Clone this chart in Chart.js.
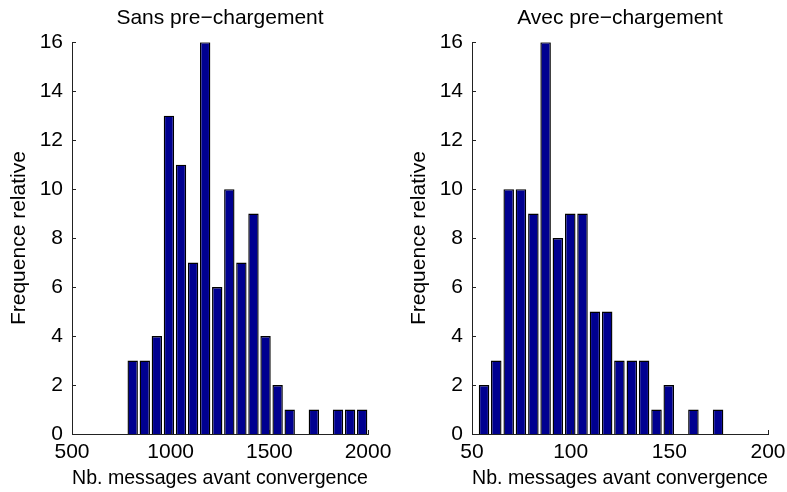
<!DOCTYPE html>
<html>
<head>
<meta charset="utf-8">
<script src="https://cdn.jsdelivr.net/npm/chart.js@4/dist/chart.umd.min.js"></script>
<style>
  html, body { margin: 0; padding: 0; background: #fff; overflow: hidden; }
  body { width: 787px; height: 492px; position: relative; }
  .panel { position: absolute; top: 0; width: 400px; height: 492px; }
  #left { left: 0; }
  #right { left: 400px; }
</style>
</head>
<body>
<div class="panel" id="left"><canvas id="histSans"></canvas></div>
<div class="panel" id="right"><canvas id="histAvec"></canvas></div>
<script>
// -------------------------
// DATA
// -------------------------
const sansCenters = [807.6, 868.8, 930.0, 991.2, 1052.4, 1113.6, 1174.8, 1236.0, 1297.2, 1358.4,
                     1419.6, 1480.8, 1542.0, 1603.2, 1664.4, 1725.6, 1786.8, 1848.0, 1909.2, 1970.4];
const sansFreq = [3, 3, 4, 13, 11, 7, 16, 6, 10, 7, 9, 4, 2, 1, 0, 1, 0, 1, 1, 1];

const avecCenters = [56.1, 62.3, 68.6, 74.8, 81.1, 87.3, 93.5, 99.8, 106.0, 112.3,
                     118.5, 124.7, 131.0, 137.2, 143.5, 149.7, 155.9, 162.2, 168.4, 174.7];
const avecFreq = [2, 3, 10, 10, 9, 16, 8, 9, 9, 5, 5, 3, 3, 3, 1, 2, 0, 1, 0, 1];

const sansXTicks = [500, 1000, 1500, 2000];
const avecXTicks = [50, 100, 150, 200];
const yTicks = [0, 2, 4, 6, 8, 10, 12, 14, 16];

const titles = ["Sans pre\u2212chargement", "Avec pre\u2212chargement"];
const xLabel = "Nb. messages avant convergence";
const yLabel = "Frequence relative";

// -------------------------
// STYLE
// -------------------------
const FONT = "'Liberation Sans', Arial, Helvetica, sans-serif";
const FONT_SIZE = 21;
const BAR_COLOR = "#000090";
const AXIS_COLOR = "#222222";
const TICK_LEN = 4;

// small inward tick marks, matlab style
const inwardTicks = {
  id: "inwardTicks",
  afterDraw(chart) {
    const ctx = chart.ctx;
    const xs = chart.scales.x;
    const ys = chart.scales.y;
    const area = chart.chartArea;
    ctx.save();
    ctx.strokeStyle = AXIS_COLOR;
    ctx.lineWidth = 1;
    ctx.beginPath();
    xs.ticks.forEach(t => {
      const px = Math.round(xs.getPixelForValue(t.value)) + 0.5;
      ctx.moveTo(px, area.bottom);
      ctx.lineTo(px, area.bottom - TICK_LEN);
    });
    ys.ticks.forEach(t => {
      const py = Math.round(ys.getPixelForValue(t.value)) + 0.5;
      ctx.moveTo(area.left, py);
      ctx.lineTo(area.left + TICK_LEN, py);
    });
    ctx.stroke();
    ctx.restore();
  }
};

// -------------------------
// BUILD ONE HISTOGRAM
// -------------------------
function makeHist(canvasId, title, centers, freq, xTicks) {
  const points = centers.map((c, i) => ({ x: c, y: freq[i] }));
  const ctx = document.getElementById(canvasId).getContext("2d");

  return new Chart(ctx, {
    type: "bar",
    data: {
      datasets: [{
        data: points,
        backgroundColor: BAR_COLOR,
        borderColor: "#000000",
        borderWidth: 1.4,
        barPercentage: 0.86,
        categoryPercentage: 1.0
      }]
    },
    options: {
      responsive: true,
      maintainAspectRatio: false,
      animation: false,
      layout: { padding: { left: 0, right: 32, top: 0, bottom: 0 } },
      plugins: {
        legend: { display: false },
        tooltip: { enabled: false },
        title: {
          display: true,
          text: title,
          fullSize: false,
          color: "#000",
          font: { family: FONT, size: FONT_SIZE, weight: "normal" },
          padding: { top: 6, bottom: 11 }
        }
      },
      scales: {
        x: {
          type: "linear",
          offset: false,
          min: xTicks[0],
          max: xTicks[xTicks.length - 1],
          afterBuildTicks: s => { s.ticks = xTicks.map(v => ({ value: v })); },
          afterFit: s => { s.height = 58; },
          grid: { display: false, drawTicks: false },
          border: { display: true, color: AXIS_COLOR, width: 1 },
          ticks: {
            color: "#000",
            padding: 6,
            maxRotation: 0,
            callback: v => String(v),
            font: { family: FONT, size: FONT_SIZE }
          },
          title: {
            display: true,
            text: xLabel,
            color: "#000",
            font: { family: FONT, size: FONT_SIZE },
            padding: { top: 0, bottom: 1 }
          }
        },
        y: {
          min: 0,
          max: 16,
          afterBuildTicks: s => { s.ticks = yTicks.map(v => ({ value: v })); },
          afterFit: s => { s.width = 72; },
          grid: { display: false, drawTicks: false },
          border: { display: true, color: AXIS_COLOR, width: 1 },
          ticks: {
            color: "#000",
            padding: 9,
            callback: v => String(v),
            font: { family: FONT, size: FONT_SIZE }
          },
          title: {
            display: true,
            text: yLabel,
            color: "#000",
            font: { family: FONT, size: FONT_SIZE },
            padding: { top: 7, bottom: 0 }
          }
        }
      }
    },
    plugins: [inwardTicks]
  });
}

// -------------------------
// START
// -------------------------
makeHist("histSans", titles[0], sansCenters, sansFreq, sansXTicks);
makeHist("histAvec", titles[1], avecCenters, avecFreq, avecXTicks);
</script>
</body>
</html>
